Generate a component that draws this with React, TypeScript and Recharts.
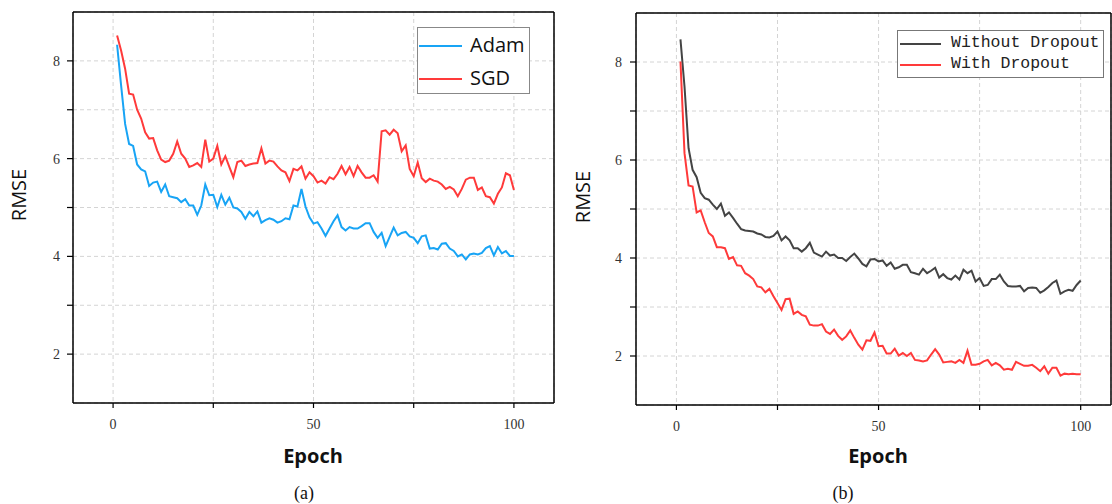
import React from "react";
import { LineChart, Line, XAxis, YAxis, CartesianGrid } from "recharts";

// x categories: epoch number
const epochs = Array.from({ length: 100 }, (_, i) => i + 1);

// (a) optimiser comparison
const adam = [
  8.33, 7.5, 6.71, 6.3, 6.26, 5.88, 5.78, 5.74, 5.44, 5.51,
  5.53, 5.32, 5.47, 5.23, 5.21, 5.19, 5.11, 5.17, 5.04, 5.04,
  4.85, 5.04, 5.47, 5.25, 5.26, 5.01, 5.26, 5.06, 5.2, 5.0,
  4.98, 4.91, 4.77, 4.91, 4.82, 4.92, 4.69, 4.74, 4.78, 4.75,
  4.69, 4.72, 4.78, 4.76, 5.04, 5.02, 5.38, 5.02, 4.8, 4.67,
  4.7, 4.57, 4.42, 4.57, 4.72, 4.84, 4.6, 4.53, 4.6, 4.57,
  4.57, 4.62, 4.68, 4.68, 4.5, 4.38, 4.48, 4.21, 4.4, 4.59,
  4.43, 4.48, 4.5, 4.41, 4.38, 4.27, 4.41, 4.43, 4.16, 4.17,
  4.14, 4.26, 4.27, 4.16, 4.11, 4.0, 4.04, 3.94, 4.04, 4.06,
  4.04, 4.07, 4.17, 4.21, 4.02, 4.19, 4.06, 4.11, 4.01, 4.01,
];
const sgd = [
  8.52, 8.21, 7.84, 7.33, 7.31, 7.0, 6.82, 6.54, 6.41, 6.42,
  6.17, 5.98, 5.93, 5.96, 6.1, 6.35, 6.1, 6.0, 5.83, 5.86,
  5.91, 5.83, 6.39, 5.94, 6.0, 6.26, 5.88, 6.05, 5.83, 5.62,
  5.93, 5.96, 5.85, 5.88, 5.9, 5.91, 6.21, 5.9, 5.96, 5.94,
  5.84, 5.76, 5.72, 5.54, 5.79, 5.76, 5.84, 5.59, 5.72, 5.64,
  5.51, 5.55, 5.49, 5.62, 5.58, 5.69, 5.85, 5.68, 5.83, 5.64,
  5.85, 5.72, 5.61, 5.61, 5.66, 5.53, 6.56, 6.58, 6.49, 6.59,
  6.52, 6.15, 6.27, 5.79, 5.64, 5.92, 5.6, 5.52, 5.59, 5.55,
  5.53, 5.47, 5.38, 5.42, 5.37, 5.23, 5.38, 5.57, 5.61, 5.61,
  5.36, 5.41, 5.23, 5.21, 5.08, 5.28, 5.41, 5.7, 5.66, 5.36,
];

// (b) dropout comparison
const withoutDropout = [
  8.46, 7.5, 6.24, 5.8, 5.65, 5.33, 5.22, 5.19, 5.09, 5.0,
  5.11, 4.86, 4.93, 4.82, 4.7, 4.59, 4.56, 4.55, 4.54, 4.5,
  4.48, 4.43, 4.42, 4.45, 4.54, 4.36, 4.44, 4.36, 4.2, 4.2,
  4.13, 4.2, 4.31, 4.11, 4.07, 4.03, 4.13, 4.05, 4.07, 4.0,
  4.0, 3.94, 4.02, 4.09, 3.99, 3.88, 3.83, 3.97, 3.98, 3.93,
  3.95, 3.84, 3.91, 3.78, 3.81, 3.86, 3.86, 3.71, 3.69, 3.66,
  3.78, 3.69, 3.74, 3.8, 3.6, 3.67, 3.59, 3.56, 3.64, 3.56,
  3.76, 3.69, 3.74, 3.52, 3.59, 3.43, 3.45, 3.57, 3.57, 3.66,
  3.52, 3.43, 3.42, 3.42, 3.43, 3.32, 3.39, 3.4, 3.39, 3.29,
  3.34, 3.41, 3.49, 3.54, 3.27, 3.32, 3.35, 3.33, 3.45, 3.54,
];
const withDropout = [
  8.01, 6.14, 5.48, 5.46, 4.93, 4.97, 4.73, 4.51, 4.44, 4.22,
  4.22, 4.2, 3.98, 4.02, 3.85, 3.84, 3.69, 3.64, 3.57, 3.42,
  3.4, 3.3, 3.37, 3.22, 3.08, 2.94, 3.16, 3.17, 2.86, 2.91,
  2.84, 2.81, 2.64, 2.62, 2.62, 2.65, 2.5, 2.45, 2.54, 2.41,
  2.33, 2.4, 2.52, 2.37, 2.23, 2.13, 2.32, 2.31, 2.48, 2.2,
  2.21, 2.05, 2.05, 2.15, 2.01, 2.06, 2.0, 2.06, 1.92, 1.91,
  1.89, 1.91, 2.03, 2.14, 2.03, 1.87, 1.88, 1.89, 1.86, 1.92,
  1.86, 2.11, 1.82, 1.82, 1.84, 1.89, 1.92, 1.81, 1.86, 1.81,
  1.72, 1.74, 1.72, 1.88, 1.84, 1.8, 1.8, 1.82, 1.76, 1.69,
  1.79, 1.64, 1.76, 1.76, 1.6, 1.64, 1.63, 1.64, 1.63, 1.63,
];

const xTicks = [0, 25, 50, 75, 100];
const xLabels = [0, 50, 100];
const yTicks = [2, 3, 4, 5, 6, 7, 8];
const yLabels = [2, 4, 6, 8];

const dataA = epochs.map((e, i) => ({ epoch: e, adam: adam[i], sgd: sgd[i] }));
const dataB = epochs.map((e, i) => ({
  epoch: e,
  without: withoutDropout[i],
  with: withDropout[i],
}));

const tickFont = { fontFamily: "Liberation Serif", fontSize: 14, fill: "#333" };
const axisStroke = { stroke: "#000", strokeWidth: 1.5 };
const tickStroke = { stroke: "#000", strokeWidth: 1.2 };

type Series = { key: string; color: string };

function Panel(props: {
  data: any[];
  series: Series[];
  width: number;
  margin: { top: number; right: number; bottom: number; left: number };
  yWidth: number;
  xMax: number;
  yTickMargin: number;
}) {
  const { data, series, width, margin, yWidth, xMax, yTickMargin } = props;
  return (
    <LineChart width={width} height={504} data={data} margin={margin}>
      <CartesianGrid stroke="#d4d4d4" strokeDasharray="4 3" ticks={undefined} />
      <XAxis
        type="number"
        dataKey="epoch"
        domain={[-10, xMax]}
        ticks={xTicks}
        allowDataOverflow
        height={30}
        tickSize={5}
        tickMargin={11}
        axisLine={axisStroke}
        tickLine={tickStroke}
        tick={tickFont}
        tickFormatter={(v: number) => (xLabels.includes(v) ? String(v) : "")}
      />
      <XAxis
        xAxisId="top"
        orientation="top"
        type="number"
        domain={[-10, xMax]}
        ticks={xTicks}
        allowDataOverflow
        mirror
        tick={false}
        tickSize={4}
        axisLine={axisStroke}
        tickLine={tickStroke}
      />
      <YAxis
        type="number"
        domain={[1, 9]}
        ticks={yTicks}
        allowDataOverflow
        width={yWidth}
        tickSize={6}
        tickMargin={yTickMargin}
        axisLine={axisStroke}
        tickLine={tickStroke}
        tick={tickFont}
        tickFormatter={(v: number) => (yLabels.includes(v) ? String(v) : "")}
      />
      <YAxis
        yAxisId="right"
        orientation="right"
        type="number"
        domain={[1, 9]}
        ticks={yTicks}
        allowDataOverflow
        mirror
        tick={false}
        tickSize={4}
        axisLine={axisStroke}
        tickLine={tickStroke}
      />
      {series.map((s) => (
        <Line
          key={s.key}
          type="linear"
          dataKey={s.key}
          stroke={s.color}
          strokeWidth={2}
          dot={false}
          isAnimationActive={false}
        />
      ))}
    </LineChart>
  );
}

const abs = (x: number, y: number): React.CSSProperties => ({
  position: "absolute",
  left: x,
  top: y,
});

function Centered(props: {
  x: number;
  y: number;
  rotate?: boolean;
  style: React.CSSProperties;
  children: React.ReactNode;
}) {
  return (
    <div
      style={{
        ...abs(props.x, props.y),
        transform: `translate(-50%, -50%)${props.rotate ? " rotate(-90deg)" : ""}`,
        whiteSpace: "nowrap",
        lineHeight: 1,
        ...props.style,
      }}
    >
      {props.children}
    </div>
  );
}

const axisTitle: React.CSSProperties = {
  fontFamily: "Open Sans",
  fontSize: 20,
  color: "#111",
};

export default function App() {
  return (
    <div
      style={{
        position: "absolute",
        left: 0,
        top: 0,
        width: 1112,
        height: 504,
        background: "#fff",
        overflow: "hidden",
      }}
    >
      <div style={abs(0, 0)}>
        <Panel
          data={dataA}
          series={[
            { key: "adam", color: "#18a4f5" },
            { key: "sgd", color: "#ff3a3a" },
          ]}
          width={560}
          margin={{ top: 12, right: 6, bottom: 71, left: 0 }}
          yWidth={73}
          xMax={110}
          yTickMargin={7}
        />
      </div>
      <div style={abs(560, 0)}>
        <Panel
          data={dataB}
          series={[
            { key: "without", color: "#444" },
            { key: "with", color: "#ff3a3a" },
          ]}
          width={552}
          margin={{ top: 13, right: 1, bottom: 69, left: 0 }}
          yWidth={76}
          xMax={107.5}
          yTickMargin={8}
        />
      </div>

      {/* legend (a) */}
      <div
        style={{
          ...abs(417, 27),
          width: 111,
          height: 65,
          border: "1.5px solid #888",
          background: "#fff",
          fontFamily: "Open Sans",
          fontSize: 20,
          color: "#111",
        }}
      >
        <div style={{ ...abs(1, 17), width: 43, height: 2, background: "#18a4f5" }} />
        <div style={{ ...abs(52, 5), lineHeight: "24px" }}>Adam</div>
        <div style={{ ...abs(1, 50), width: 43, height: 2, background: "#ff3a3a" }} />
        <div style={{ ...abs(52, 38), lineHeight: "24px" }}>SGD</div>
      </div>

      {/* legend (b) */}
      <div
        style={{
          ...abs(897, 30),
          width: 205,
          height: 46,
          border: "1.5px solid #777",
          background: "#fff",
          fontFamily: "Liberation Mono",
          fontSize: 16.5,
          color: "#222",
        }}
      >
        <div style={{ ...abs(2, 12), width: 41, height: 2, background: "#444" }} />
        <div style={{ ...abs(53, 2), lineHeight: "20px" }}>Without Dropout</div>
        <div style={{ ...abs(2, 33), width: 41, height: 2, background: "#ff3a3a" }} />
        <div style={{ ...abs(53, 23), lineHeight: "20px" }}>With Dropout</div>
      </div>

      <Centered x={19} y={195} rotate style={axisTitle}>RMSE</Centered>
      <Centered x={583} y={197} rotate style={axisTitle}>RMSE</Centered>
      <Centered x={313} y={456} style={{ ...axisTitle, fontWeight: 700 }}>Epoch</Centered>
      <Centered x={878} y={456} style={{ ...axisTitle, fontWeight: 700 }}>Epoch</Centered>
      <Centered x={304} y={493} style={{ fontFamily: "Liberation Serif", fontSize: 18, color: "#111" }}>(a)</Centered>
      <Centered x={843} y={493} style={{ fontFamily: "Liberation Serif", fontSize: 18, color: "#111" }}>(b)</Centered>
    </div>
  );
}
